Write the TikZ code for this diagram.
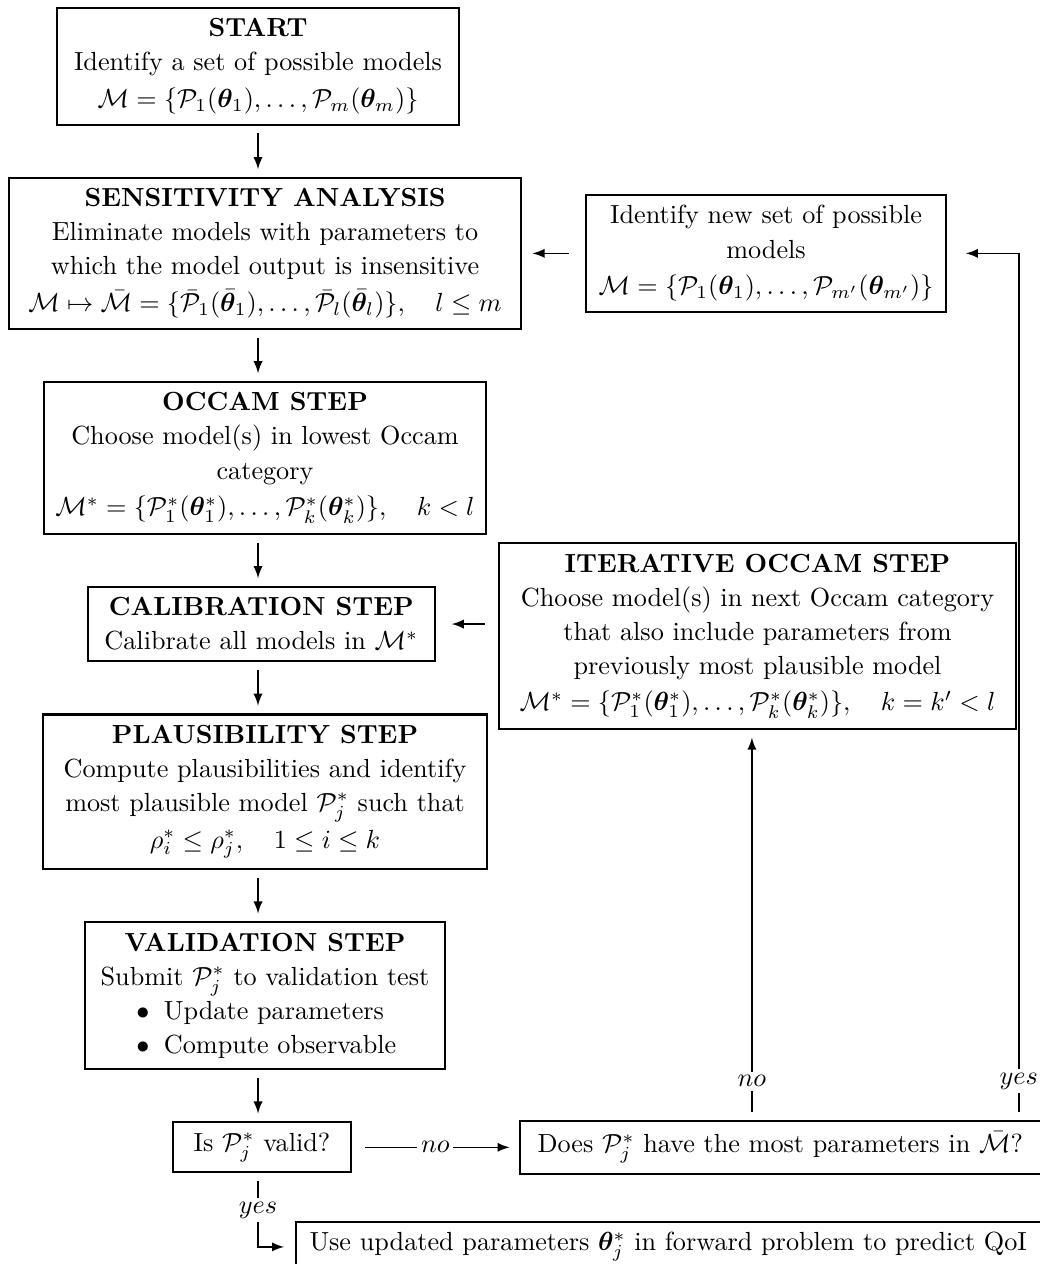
\documentclass[tikz,border=0pt]{standalone}
\usepackage{amsmath,amssymb,bm}
\usepackage{tikz}
\usetikzlibrary{positioning}

\newcommand{\itm}[1]{\makebox[3.45cm][l]{$\bullet$\hspace{0.55em}#1}}

\begin{document}
\begin{tikzpicture}[>=latex, node distance=0.69cm,
    box/.style={draw, thick, align=center, inner sep=4pt, font=\fontsize{10}{13}\selectfont},
    flow/.style={->, semithick, shorten <=3pt, shorten >=3pt},
    lbl/.style={fill=white, inner sep=1.5pt}]
    % main column
    \node[box, minimum width=5.39cm] (start) {\textbf{START}\\
        Identify a set of possible models\\[1pt]
        $\mathcal{M}=\{\mathcal{P}_1(\bm\theta_1),\dots,\mathcal{P}_m(\bm\theta_m)\}$};
    \node[box, minimum width=6.87cm] (sens) [below=of start, xshift=0.094cm] {\textbf{SENSITIVITY ANALYSIS}\\
        Eliminate models with parameters to\\
        which the model output is insensitive\\[1pt]
        $\mathcal{M}\mapsto\bar{\mathcal{M}}=\{\bar{\mathcal{P}}_1(\bar{\bm\theta}_1),\dots,\bar{\mathcal{P}}_l(\bar{\bm\theta}_l)\},\quad l\le m$};
    \node[box, minimum width=5.93cm] (occam) [below=of sens] {\textbf{OCCAM STEP}\\
        Choose model(s) in lowest Occam\\
        category\\[1pt]
        $\mathcal{M}^*=\{\mathcal{P}^*_1(\bm\theta^*_1),\dots,\mathcal{P}^*_k(\bm\theta^*_k)\},\quad k<l$};
    \node[box, minimum width=4.66cm] (calib) [below=of occam, xshift=-0.05cm] {\textbf{CALIBRATION STEP}\\
        Calibrate all models in $\mathcal{M}^*$};
    \node[box, minimum width=5.95cm] (plaus) [below=of calib, xshift=0.05cm] {\textbf{PLAUSIBILITY STEP}\\
        Compute plausibilities and identify\\
        most plausible model $\mathcal{P}^*_j$ such that\\[1pt]
        $\rho^*_i\le\rho^*_j,\quad 1\le i\le k$};
    \node[box, minimum width=4.83cm] (valid) [below=of plaus] {\textbf{VALIDATION STEP}\\
        Submit $\mathcal{P}^*_j$ to validation test\\
        \itm{Update parameters}\\
        \itm{Compute observable}};
    \node[box, minimum width=2.38cm] (isvalid) [below=of valid, xshift=-0.04cm] {Is $\mathcal{P}^*_j$ valid?};
    % side boxes
    \node[box, minimum width=4.84cm] (newset) [right=0.84cm of sens] {Identify new set of possible\\
        models\\[1pt]
        $\mathcal{M}=\{\mathcal{P}_1(\bm\theta_1),\dots,\mathcal{P}_{m'}(\bm\theta_{m'})\}$};
    \node[box, minimum width=6.94cm] (iter) [right=0.83cm of calib, yshift=-0.16cm] {\textbf{ITERATIVE OCCAM STEP}\\
        Choose model(s) in next Occam category\\
        that also include parameters from\\
        previously most plausible model\\[1pt]
        $\mathcal{M}^*=\{\mathcal{P}^*_1(\bm\theta^*_1),\dots,\mathcal{P}^*_k(\bm\theta^*_k)\},\quad k=k'<l$};
    \node[box, minimum width=6.99cm] (does) [right=2.24cm of isvalid] {Does $\mathcal{P}^*_j$ have the most parameters in $\bar{\mathcal{M}}$?};
    \node[box, minimum width=10cm] (use) [below right=0.64cm and 1.64cm of isvalid.south west] {Use updated parameters $\bm\theta^*_j$ in forward problem to predict QoI};

    % main chain, all on the x of start
    \draw[flow] (start.south) -- (sens.north -| start);
    \draw[flow] (sens.south -| start) -- (occam.north -| start);
    \draw[flow] (occam.south -| start) -- (calib.north -| start);
    \draw[flow] (calib.south -| start) -- (plaus.north -| start);
    \draw[flow] (plaus.south -| start) -- (valid.north -| start);
    \draw[flow] (valid.south -| start) -- (isvalid.north -| start);
    \draw[flow, shorten <=6pt, shorten >=4pt] (newset) -- (sens);
    \draw[flow, shorten <=5pt, shorten >=6pt] (iter.west |- calib.east) -- (calib.east);
    \draw[flow, shorten <=5pt, shorten >=3.5pt] (isvalid) -- node[lbl]{$no$} (does);
    \draw[flow, shorten >=4pt] (isvalid.south -| start) |- node[lbl, pos=0.25]{$yes$} (use);
    \draw[flow] ([xshift=-0.38cm]does.north) -- ++(0,0.52) node[lbl]{$no$}
        -- ([xshift=-0.38cm]does.north |- iter.south);
    \draw[flow, shorten >=7pt] ([xshift=3.2cm]does.north) -- ++(0,0.52) node[lbl]{$yes$}
        |- (newset);

    \coordinate (tl) at (sens.west |- start.north);
    \pgfresetboundingbox
    \useasboundingbox ([shift={(-0.107,0.094)}]tl) rectangle ++(13.95,-16.96);
\end{tikzpicture}
\end{document}
